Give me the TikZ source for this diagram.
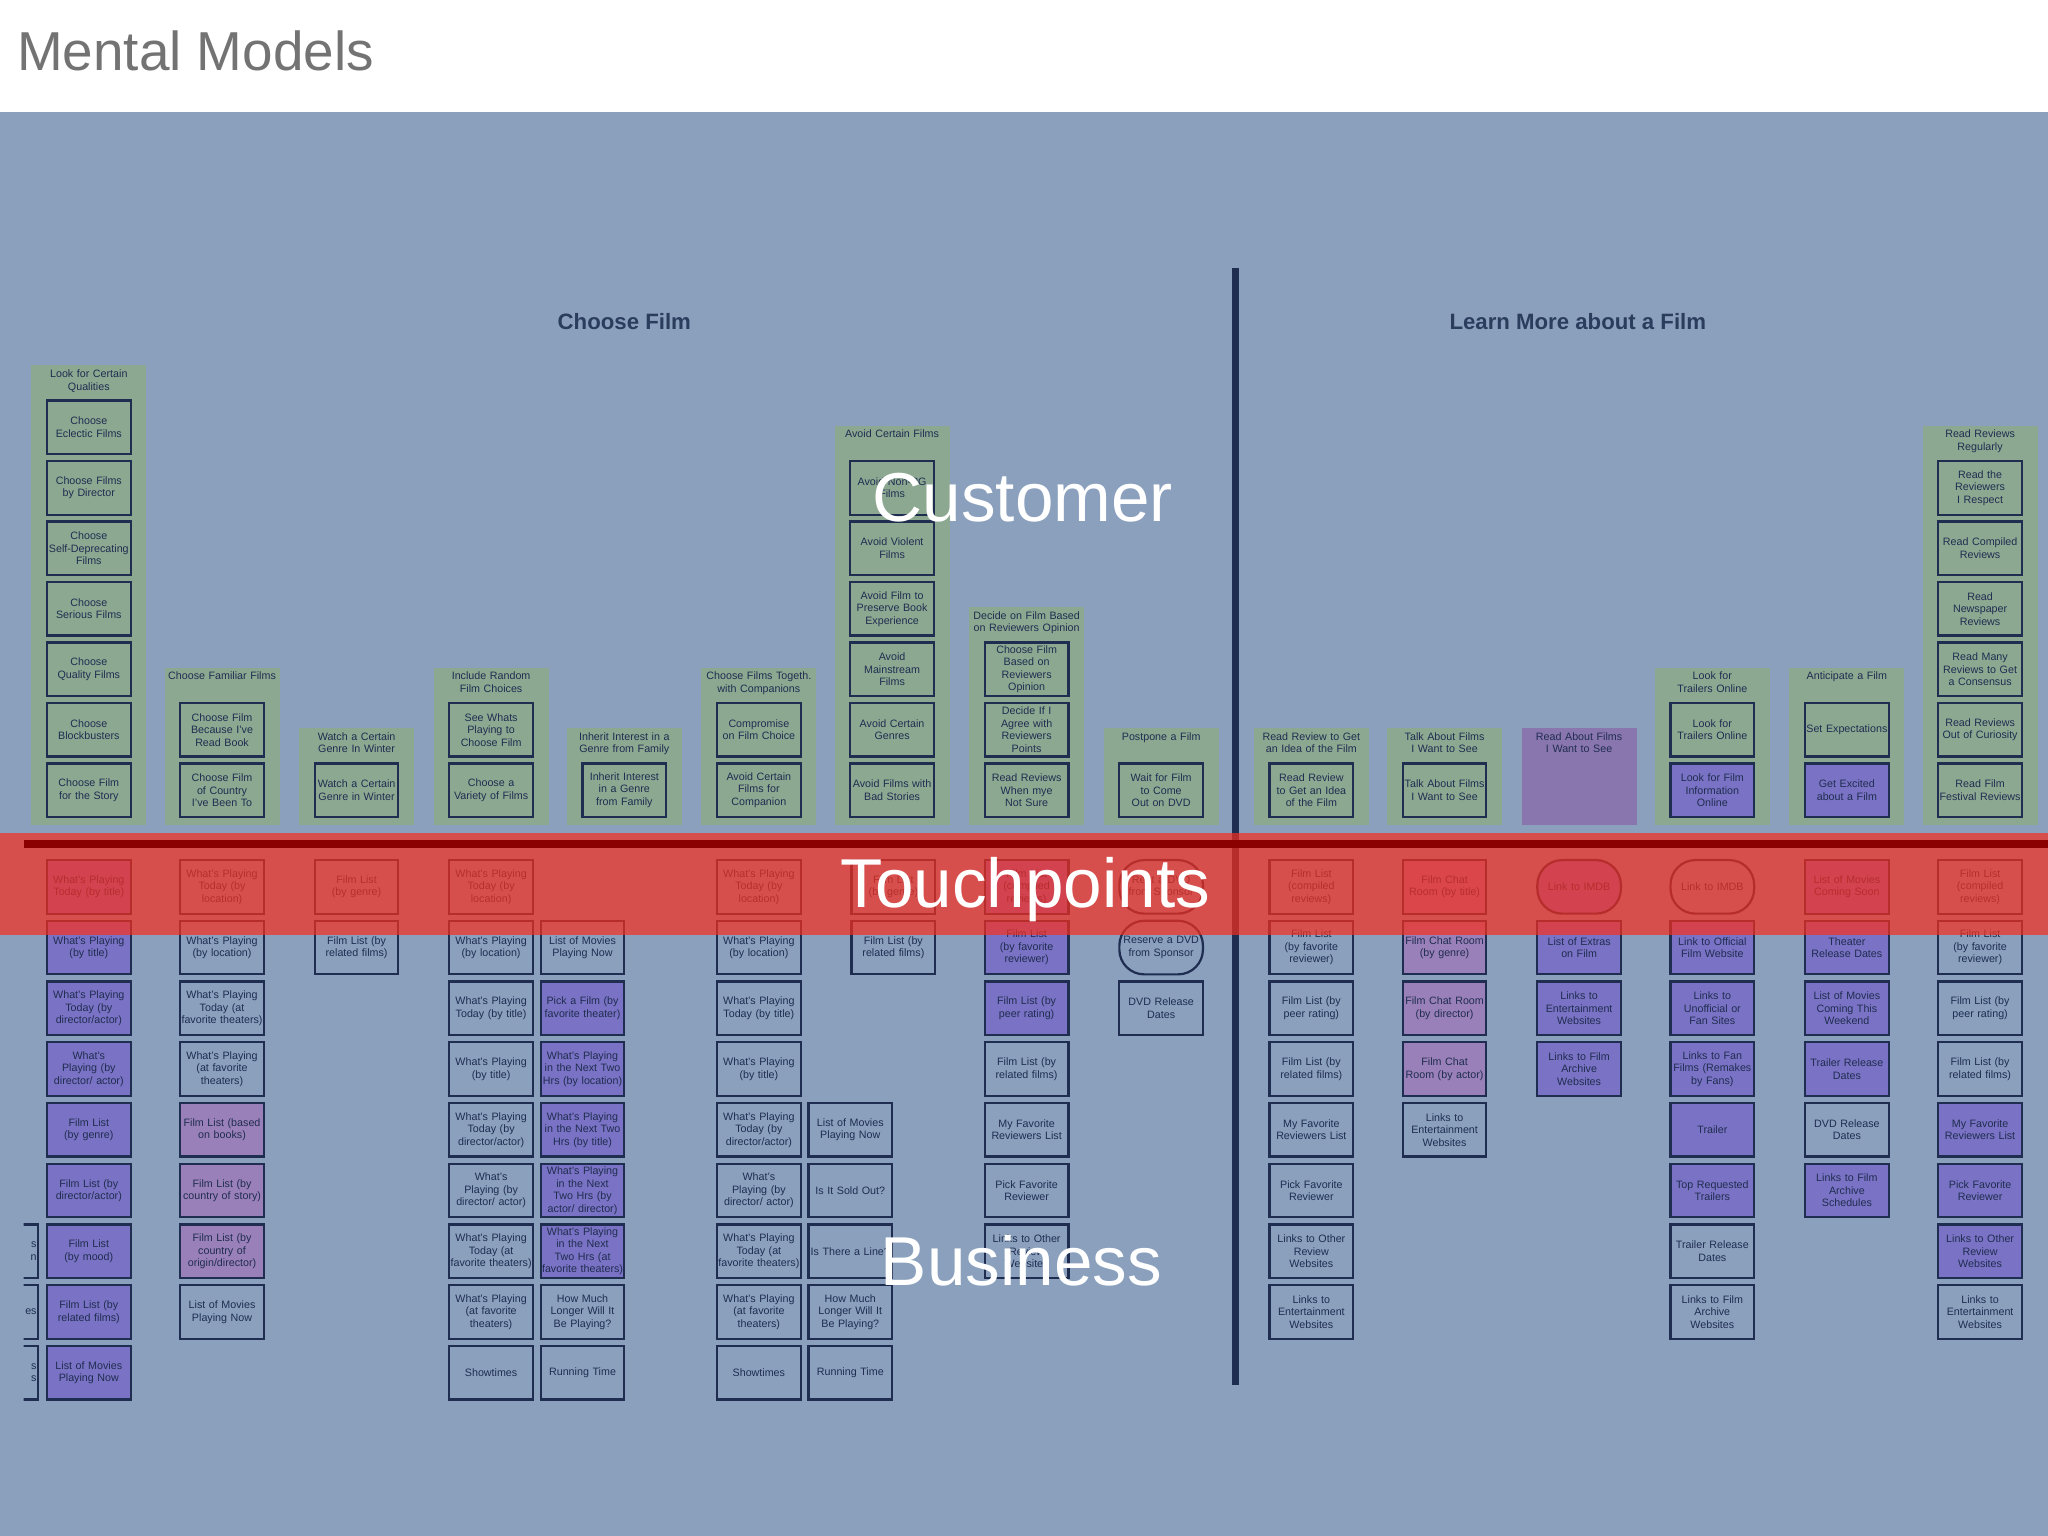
\documentclass[tikz,border=0pt]{standalone}
\usepackage{fontspec}
\setmainfont{Liberation Sans}
\definecolor{bg}{HTML}{8AA0BD}
\definecolor{navy}{HTML}{1F2D50}
\definecolor{pur}{HTML}{7A72C4}
\definecolor{mau}{HTML}{9A80B8}
\definecolor{grn}{HTML}{8CA891}
\definecolor{pgrp}{HTML}{8A76AE}
\definecolor{bandred}{RGB}{248,46,30}
\definecolor{dred}{HTML}{8B0000}
\definecolor{ttl}{HTML}{2A3D5C}
\newcommand\nohy{\hyphenpenalty=10000\relax\exhyphenpenalty=10000\relax}
\tikzset{
  bx/.style={draw=navy, line width=0.85pt, minimum width=32pt, minimum height=20.5pt,
    inner sep=0pt, text width=31pt, align=center, text=navy,
    font=\fontsize{4.1}{4.8}\selectfont\nohy},
  bxr/.style={bx, align=right},
  bp/.style={bx, fill=pur},
  bm/.style={bx, fill=mau},
  bo/.style={bx, rounded corners=9.5pt},
  bop/.style={bo, fill=pur},
  hdr/.style={anchor=north, text width=42pt, align=center, text=navy, inner sep=0pt,
    font=\fontsize{4.1}{4.8}\selectfont\nohy},
  big/.style={text=white, font=\fontsize{26.5}{30}\selectfont},
  sect/.style={text=ttl, font=\bfseries\fontsize{8.5}{10}\selectfont}
}
\newcommand\bcol[3]{\foreach \r/\s/\t in {#3} {\node[\s] (#2\r) at (#1,{679+46.5*(\r-1)}) {\t};}}
\newcommand\ccol[3]{\foreach \r/\s/\t in {#3} {\node[\s] (#2\r) at (#1,{605-46.3*(7-\r)}) {\t};}}
\newcommand\grp[5]{\fill[#4] ({#1-44},{605-46.3*(7-#2)-47.5}) rectangle ({#1+44},632);
  \node[hdr] (#5) at (#1,{605-46.3*(7-#2)-44.5}) {#3};}
\begin{document}
\begin{tikzpicture}[x=0.5pt,y=-0.5pt]
\useasboundingbox (0,0) rectangle (1568,1176);
\fill[white] (0,0) rectangle (1568,86);
\fill[bg] (0,86) rectangle (1568,1176);
\node[anchor=west, text=black!55, font=\fontsize{21}{24}\selectfont] (title) at (6,39) {Mental Models};
\node[sect] (s1) at (478,246) {Choose Film};
\node[sect] (s2) at (1208,246) {Learn More about a Film};
% customer groups
\grp{68}{1}{Look for Certain Qualities}{grn}{g1}
\grp{170}{6}{Choose Familiar Films}{grn}{g2}
\grp{273}{7}{Watch a Certain Genre In Winter}{grn}{g3}
\grp{376}{6}{Include Random Film Choices}{grn}{g4}
\grp{478}{7}{Inherit Interest in a Genre from Family}{grn}{g5}
\grp{581}{6}{Choose Films Togeth. with Companions}{grn}{g6}
\grp{683}{2}{Avoid Certain Films}{grn}{g7}
\grp{786}{5}{Decide on Film Based on Reviewers Opinion}{grn}{g8}
\grp{889}{7}{Postpone a Film}{grn}{g9}
\grp{1004}{7}{Read Review to Get an Idea of the Film}{grn}{g10}
\grp{1106}{7}{Talk About Films I Want to See}{grn}{g11}
\grp{1209}{7}{Read About Films I Want to See}{pgrp}{g12}
\grp{1311}{6}{Look for Trailers Online}{grn}{g13}
\grp{1414}{6}{Anticipate a Film}{grn}{g14}
\grp{1516}{2}{Read Reviews Regularly}{grn}{g15}
% customer boxes
\ccol{68}{ca}{1/bx/{Choose Eclectic Films},2/bx/{Choose Films by Director},3/bx/{Choose Self-Deprecating Films},4/bx/{Choose Serious Films},5/bx/{Choose Quality Films},6/bx/{Choose Blockbusters},7/bx/{Choose Film for the Story}}
\ccol{170}{cb}{6/bx/{Choose Film Because I've Read Book},7/bx/{Choose Film of Country I've Been To}}
\ccol{273}{cc}{7/bx/{Watch a Certain Genre in Winter}}
\ccol{376}{cd}{6/bx/{See Whats Playing to Choose Film},7/bx/{Choose a Variety of Films}}
\ccol{478}{ce}{7/bx/{Inherit Interest in a Genre from Family}}
\ccol{581}{cf}{6/bx/{Compromise on Film Choice},7/bx/{Avoid Certain Films for Companion}}
\ccol{683}{cg}{2/bx/{Avoid Non-PG Films},3/bx/{Avoid Violent Films},4/bx/{Avoid Film to Preserve Book Experience},5/bx/{Avoid Mainstream Films},6/bx/{Avoid Certain Genres},7/bx/{Avoid Films with Bad Stories}}
\ccol{786}{ch}{5/bx/{Choose Film Based on Reviewers Opinion},6/bx/{Decide If I Agree with Reviewers Points},7/bx/{Read Reviews When mye Not Sure}}
\ccol{889}{ci}{7/bx/{Wait for Film to Come Out on DVD}}
\ccol{1004}{cj}{7/bx/{Read Review to Get an Idea of the Film}}
\ccol{1106}{ck}{7/bx/{Talk About Films I Want to See}}
\ccol{1311}{cm}{6/bx/{Look for Trailers Online},7/bp/{Look for Film Information Online}}
\ccol{1414}{cn}{6/bx/{Set Expectations},7/bp/{Get Excited about a Film}}
\ccol{1516}{co}{2/bx/{Read the Reviewers I Respect},3/bx/{Read Compiled Reviews},4/bx/{Read Newspaper Reviews},5/bx/{Read Many Reviews to Get a Consensus},6/bx/{Read Reviews Out of Curiosity},7/bx/{Read Film Festival Reviews}}
% business boxes
\begin{scope}
\clip (18,600) rectangle (60,1100);
\bcol{-3}{ez}{7/bxr/{s\\n},8/bxr/{es},9/bxr/{s\\s}}
\end{scope}
\bcol{68}{ba}{1/bp/{What's Playing Today (by title)},2/bp/{What's Playing (by title)},3/bp/{What's Playing Today (by director/actor)},4/bp/{What's Playing (by director/ actor)},5/bp/{Film List (by genre)},6/bp/{Film List (by director/actor)},7/bp/{Film List (by mood)},8/bp/{Film List (by related films)},9/bp/{List of Movies Playing Now}}
\bcol{170}{bb}{1/bx/{What's Playing Today (by location)},2/bx/{What's Playing (by location)},3/bx/{What's Playing Today (at favorite theaters)},4/bx/{What's Playing (at favorite theaters)},5/bm/{Film List (based on books)},6/bm/{Film List (by country of story)},7/bm/{Film List (by country of origin/director)},8/bx/{List of Movies Playing Now}}
\bcol{273}{bc}{1/bx/{Film List (by genre)},2/bx/{Film List (by related films)}}
\bcol{376}{bd}{1/bx/{What's Playing Today (by location)},2/bx/{What's Playing (by location)},3/bx/{What's Playing Today (by title)},4/bx/{What's Playing (by title)},5/bx/{What's Playing Today (by director/actor)},6/bx/{What's Playing (by director/ actor)},7/bx/{What's Playing Today (at favorite theaters)},8/bx/{What's Playing (at favorite theaters)},9/bx/{Showtimes}}
\bcol{446}{be}{2/bx/{List of Movies Playing Now},3/bp/{Pick a Film (by favorite theater)},4/bp/{What's Playing in the Next Two Hrs (by location)},5/bp/{What's Playing in the Next Two Hrs (by title)},6/bp/{What's Playing in the Next Two Hrs (by actor/ director)},7/bp/{What's Playing in the Next Two Hrs (at favorite theaters)},8/bx/{How Much Longer Will It Be Playing?},9/bx/{Running Time}}
\bcol{581}{bf}{1/bx/{What's Playing Today (by location)},2/bx/{What's Playing (by location)},3/bx/{What's Playing Today (by title)},4/bx/{What's Playing (by title)},5/bx/{What's Playing Today (by director/actor)},6/bx/{What's Playing (by director/ actor)},7/bx/{What's Playing Today (at favorite theaters)},8/bx/{What's Playing (at favorite theaters)},9/bx/{Showtimes}}
\bcol{651}{bg}{5/bx/{List of Movies Playing Now},6/bx/{Is It Sold Out?},7/bx/{Is There a Line?},8/bx/{How Much Longer Will It Be Playing?},9/bx/{Running Time}}
\bcol{684}{bh}{1/bx/{Film List (by genre)},2/bx/{Film List (by related films)}}
\bcol{786}{bi}{1/bp/{Film List (compiled reviews)},2/bp/{Film List (by favorite reviewer)},3/bp/{Film List (by peer rating)},4/bx/{Film List (by related films)},5/bx/{My Favorite Reviewers List},6/bx/{Pick Favorite Reviewer},7/bx/{Links to Other Review Websites}}
\bcol{889}{bj}{1/bo/{Rent a DVD from Sponsor},2/bo/{Reserve a DVD from Sponsor},3/bx/{DVD Release Dates}}
\bcol{1004}{bk}{1/bx/{Film List (compiled reviews)},2/bx/{Film List (by favorite reviewer)},3/bx/{Film List (by peer rating)},4/bx/{Film List (by related films)},5/bx/{My Favorite Reviewers List},6/bx/{Pick Favorite Reviewer},7/bx/{Links to Other Review Websites},8/bx/{Links to Entertainment Websites}}
\bcol{1106}{bl}{1/bm/{Film Chat Room (by title)},2/bm/{Film Chat Room (by genre)},3/bm/{Film Chat Room (by director)},4/bm/{Film Chat Room (by actor)},5/bx/{Links to Entertainment Websites}}
\bcol{1209}{bn}{1/bop/{Link to IMDB},2/bp/{List of Extras on Film},3/bp/{Links to Entertainment Websites},4/bp/{Links to Film Archive Websites}}
\bcol{1311}{bq}{1/bo/{Link to IMDB},2/bp/{Link to Official Film Website},3/bp/{Links to Unofficial or Fan Sites},4/bp/{Links to Fan Films (Remakes by Fans)},5/bp/{Trailer},6/bp/{Top Requested Trailers},7/bx/{Trailer Release Dates},8/bx/{Links to Film Archive Websites}}
\bcol{1414}{br}{1/bp/{List of Movies Coming Soon},2/bp/{Theater Release Dates},3/bp/{List of Movies Coming This Weekend},4/bp/{Trailer Release Dates},5/bx/{DVD Release Dates},6/bp/{Links to Film Archive Schedules}}
\bcol{1516}{bs}{1/bx/{Film List (compiled reviews)},2/bx/{Film List (by favorite reviewer)},3/bx/{Film List (by peer rating)},4/bx/{Film List (by related films)},5/bp/{My Favorite Reviewers List},6/bp/{Pick Favorite Reviewer},7/bp/{Links to Other Review Websites},8/bx/{Links to Entertainment Websites}}
% divider
\draw[navy, line width=2.5pt] (946,205) -- (946,1060);
% touchpoint band
\fill[bandred, opacity=0.7] (0,638) rectangle (1568,716);
\draw[dred, line width=3pt] (18,646) -- (1568,646);
\node[big] (cust) at (783,381) {Customer};
\node[big] (touch) at (785,681) {Touchpoints};
\node[big] (bus) at (782,965) {Business};
\end{tikzpicture}
\end{document}
